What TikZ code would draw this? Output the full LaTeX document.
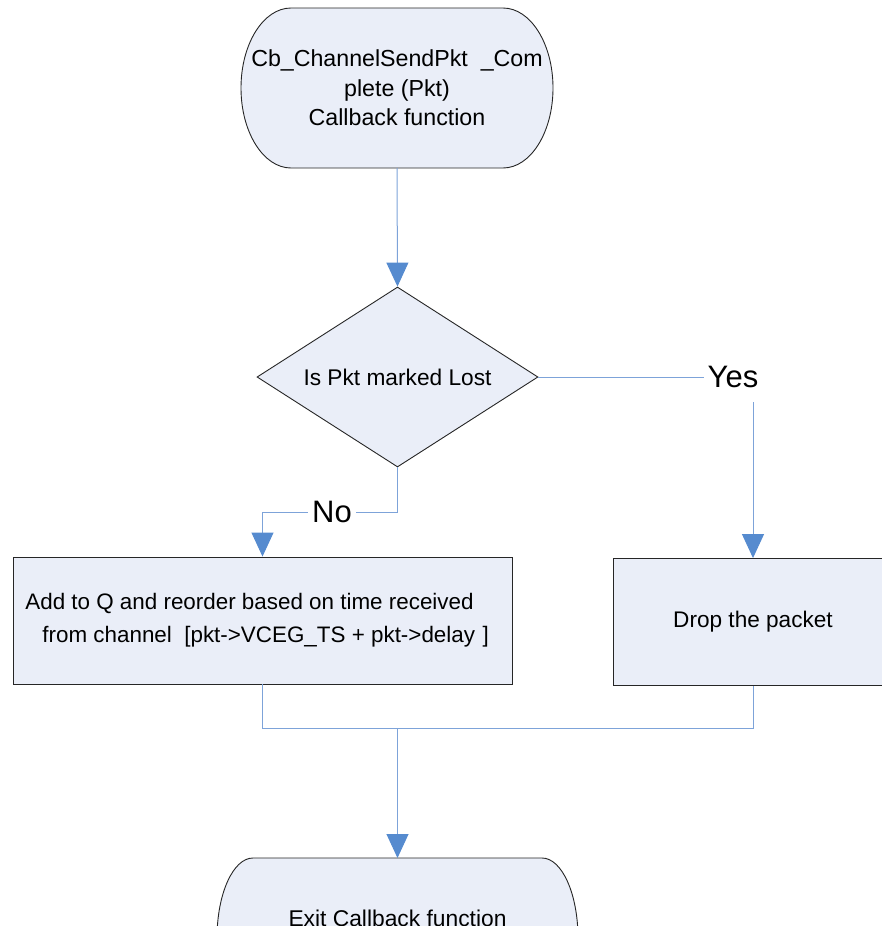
\documentclass[tikz,border=0pt]{standalone}
\usepackage{fontspec}
\setmainfont{Liberation Sans}
\usetikzlibrary{shapes.geometric,arrows.meta,calc,backgrounds}
\definecolor{shapefill}{RGB}{234,238,248}
\definecolor{conncol}{RGB}{125,163,217}
\definecolor{arrowcol}{RGB}{86,139,207}
\newcommand{\termpath}[3]{%
  \path[termline] ($(#1.north west)+(#2,0)$) -- ($(#1.north east)+(-#2,0)$)
    arc[start angle=90,end angle=-90,x radius=#2,y radius=#3]
    -- ($(#1.south west)+(#2,0)$)
    arc[start angle=270,end angle=90,x radius=#2,y radius=#3] -- cycle;}
\begin{document}
\begin{tikzpicture}[x=1pt,y=1pt,
  box/.style={draw=black!85, fill=shapefill, line width=0.9pt, inner sep=0pt},
  termgeom/.style={inner sep=0pt, outer sep=0pt},
  termline/.style={draw=black!85, fill=shapefill, line width=0.9pt},
  conn/.style={draw=conncol, line width=1pt},
  arr/.style={conn, -{Triangle[width=22pt,length=24pt,color=arrowcol]}},
  lab/.style={font=\fontsize{31}{36}\selectfont, inner xsep=4pt}
]
\useasboundingbox (0,0) rectangle (881,-926);

% start terminator
\node[termgeom, minimum width=312pt, minimum height=160pt] (start) at (397,-88) {};
\begin{pgfonlayer}{background}
  \termpath{start}{50}{80}
\end{pgfonlayer}
\node[align=center, font=\fontsize{23.2}{29.5}\selectfont] (starttxt) at (start.center)
  {Cb\_ChannelSendPkt\ \ \_Com\\plete (Pkt)\\Callback function};

% decision
\node[diamond, draw=black!85, fill=shapefill, line width=0.9pt, aspect=1.56,
      minimum width=281pt, minimum height=180pt, inner sep=0pt,
      font=\fontsize{22.7}{27}\selectfont] (dec) at (397.5,-377) {Is Pkt marked Lost};

% process boxes
\node[box, minimum width=499pt, minimum height=127pt, align=center,
      font=\fontsize{22.4}{33}\selectfont] (add) at (262.5,-620.5)
  {Add to Q and reorder based on time received\hspace*{26pt}\\
   \ from channel\ \ [pkt->VCEG\_TS + pkt->delay\,\,]};
\node[box, minimum width=280pt, minimum height=127pt,
      font=\fontsize{22.6}{28}\selectfont] (drop) at (753,-622) {Drop the packet};

% exit terminator
\node[termgeom, minimum width=361pt, minimum height=160pt] (exit) at (397.5,-938) {};
\begin{pgfonlayer}{background}
  \termpath{exit}{36}{80}
\end{pgfonlayer}
\node[font=\fontsize{22.8}{27}\selectfont] (exittxt) at (397.5,-918) {Exit Callback function};

% labels
\node[lab, inner ysep=14pt] (yes) at (733,-377) {Yes};
\node[lab] (no) at (332,-512) {No};

% connectors
\draw[arr] (start.south) -- (dec.north);
\draw[conn] (dec.south) -- (dec.south |- no.east) -- (no.east);
\draw[arr] (no.west) -- (no.west -| add.north) -- (add.north);
\draw[conn] (dec.east) -- (yes.west);
\draw[arr] (yes.south -| drop.north) -- (drop.north);
\coordinate (merge) at (397.5,-728);
\draw[conn] (add.south) -- (add.south |- merge) -- (drop.south |- merge) -- (drop.south);
\draw[arr] (merge) -- (exit.north);
\end{tikzpicture}
\end{document}
